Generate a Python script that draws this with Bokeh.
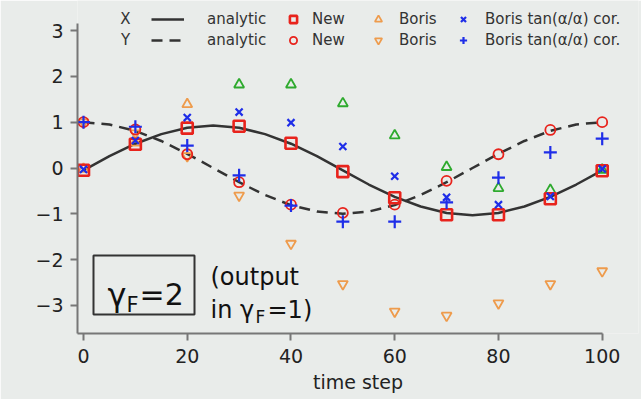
from bokeh.plotting import figure
from bokeh.models import (ColumnDataSource, Legend, LegendItem, Label,
                          BoxAnnotation, FixedTicker, Range1d)
from bokeh.embed import file_html
from bokeh.resources import INLINE
import math

# ---- data -------------------------------------------------------------
steps = [0, 10, 20, 30, 40, 50, 60, 70, 80, 90, 100]

new_x = [-0.05, 0.52, 0.87, 0.91, 0.54, -0.08, -0.65, -1.02, -1.02, -0.67, -0.06]
new_y = [1.00, 0.84, 0.30, -0.31, -0.80, -0.98, -0.80, -0.28, 0.30, 0.83, 1.00]

boris_x = [-0.02, 0.55, 1.39, 1.82, 1.82, 1.41, 0.71, 0.02, -0.44, -0.48, -0.04]
boris_x_colors = ["#ee9b4c", "#ee9b4c", "#ee9b4c", "#2eaa2e", "#2eaa2e", "#2eaa2e",
                  "#2eaa2e", "#2eaa2e", "#2eaa2e", "#2eaa2e", "#2eaa2e"]
boris_y = [1.00, 0.76, 0.26, -0.60, -1.65, -2.53, -3.13, -3.22, -2.95, -2.53, -2.25]

cor_x = [-0.03, 0.60, 1.10, 1.22, 0.99, 0.47, -0.18, -0.64, -0.80, -0.62, -0.02]
cor_y = [1.00, 0.90, 0.49, -0.16, -0.82, -1.17, -1.17, -0.75, -0.21, 0.34, 0.64]

curve_t = [0, 5, 10, 15, 20, 25, 30, 35, 40, 45, 50,
           55, 60, 65, 70, 75, 80, 85, 90, 95, 100]
analytic_x = [-0.05, 0.26, 0.53, 0.74, 0.88, 0.93, 0.88, 0.74, 0.53, 0.26, -0.05,
              -0.36, -0.63, -0.84, -0.98, -1.03, -0.98, -0.84, -0.63, -0.36, -0.05]
analytic_y = [1.00, 0.95, 0.81, 0.59, 0.31, 0.00, -0.31, -0.59, -0.81, -0.95, -1.00,
              -0.95, -0.81, -0.59, -0.31, 0.00, 0.31, 0.59, 0.81, 0.95, 1.00]

x_ticks = [0, 20, 40, 60, 80, 100]
y_ticks = [-3, -2, -1, 0, 1, 2, 3]

# ---- layout -----------------------------------------------------------
W, H = 641, 399
LEFT, RIGHT, TOP, BOTTOM = 77, 3, 0, 66
X_LO, X_HI = -1.157, -1.157 + (W - LEFT - RIGHT) / 5.187
Y_LO, Y_HI = -3.611, 3.655

BG = "#e9ecea"
FONT = "DejaVu Sans"
RED, ORANGE, BLUE, DARK = "#e8231c", "#ee9b4c", "#1f2ee8", "#333333"


def dx(px):
    return X_LO + (px - LEFT) * (X_HI - X_LO) / (W - LEFT - RIGHT)


def dy(py):
    return Y_HI - (py - TOP) * (Y_HI - Y_LO) / (H - TOP - BOTTOM)


p = figure(width=W, height=H, output_backend="svg", toolbar_location=None,
           x_range=Range1d(X_LO, X_HI), y_range=Range1d(Y_LO, Y_HI),
           min_border_left=LEFT, min_border_right=RIGHT,
           min_border_top=TOP, min_border_bottom=BOTTOM,
           background_fill_color=BG, border_fill_color=BG)
p.outline_line_color = None
p.grid.visible = False

for ax in (p.xaxis[0], p.yaxis[0]):
    ax.axis_line_color = "#777777"
    ax.axis_line_width = 2
    ax.major_tick_line_color = "#777777"
    ax.major_tick_line_width = 2
    ax.major_tick_out = 7
    ax.major_tick_in = 0
    ax.minor_tick_line_color = None
    ax.major_label_text_font = FONT
    ax.major_label_text_font_size = "19px"
    ax.major_label_text_color = "#222222"
    ax.axis_label_text_font = FONT
    ax.axis_label_text_font_size = "19px"
    ax.axis_label_text_font_style = "normal"
    ax.axis_label_text_color = "#222222"

p.xaxis.ticker = FixedTicker(ticks=x_ticks)
p.yaxis.ticker = FixedTicker(ticks=y_ticks)
p.xaxis.bounds = (X_LO, 100)
p.yaxis.bounds = (Y_LO, 3.15)
p.xaxis.major_label_standoff = 8
p.yaxis.major_label_standoff = 7
p.xaxis.axis_label = "time step"
p.xaxis.axis_label_standoff = 5

# y-axis title, set close to the tick labels
p.add_layout(Label(x=dx(28), y=dy(167), text="X,Y", angle=math.pi / 2,
                   text_align="center", text_baseline="middle", text_font=FONT,
                   text_font_size="19px", text_color="#222222"))

# ---- glyphs -----------------------------------------------------------
curves = ColumnDataSource(dict(t=curve_t, x=analytic_x, y=analytic_y))
pts = ColumnDataSource(dict(t=steps, new_x=new_x, new_y=new_y,
                            boris_x=boris_x, bx_color=boris_x_colors,
                            boris_y=boris_y, cor_x=cor_x, cor_y=cor_y))

r_ax = p.line("t", "x", source=curves, line_color=DARK, line_width=2.5)
r_ay = p.line("t", "y", source=curves, line_color=DARK, line_width=2.5,
              line_dash="11 7")

r_bx = p.scatter("t", "boris_x", source=pts, marker="triangle", size=10,
                 fill_alpha=0, line_color="bx_color", line_width=1.8)
r_by = p.scatter("t", "boris_y", source=pts, marker="inverted_triangle", size=10,
                 fill_alpha=0, line_color=ORANGE, line_width=1.8)
r_nx = p.scatter("t", "new_x", source=pts, marker="square", size=11,
                 fill_alpha=0, line_color=RED, line_width=2.6)
r_ny = p.scatter("t", "new_y", source=pts, marker="circle", size=10,
                 fill_alpha=0, line_color=RED, line_width=1.8)
r_cx = p.scatter("t", "cor_x", source=pts, marker="x", size=10,
                 line_color=BLUE, line_width=2.2)
r_cy = p.scatter("t", "cor_y", source=pts, marker="cross", size=13,
                 line_color=BLUE, line_width=2.2)

# ---- legend: four columns of two rows ----------------------------------
FRAME_BOTTOM = H - BOTTOM
LEG_TOP = 8.5
ROW_H, ROW_GAP = 20, 1
LEG_BOTTOM = LEG_TOP + 2 * ROW_H + ROW_GAP


def legend_column(items, left_px, glyph_w, standoff):
    leg = Legend(items=items, location=(left_px - LEFT, FRAME_BOTTOM - LEG_BOTTOM),
                 orientation="vertical", padding=0, margin=0, spacing=ROW_GAP,
                 glyph_width=glyph_w, glyph_height=ROW_H, label_height=ROW_H,
                 label_standoff=standoff, border_line_color=None,
                 background_fill_alpha=0, label_text_font=FONT,
                 label_text_font_size="15px", label_text_color=DARK)
    p.add_layout(leg, "center")


legend_column([LegendItem(label="analytic", renderers=[r_ax]),
               LegendItem(label="analytic", renderers=[r_ay])], 151, 33, 23)
legend_column([LegendItem(label="New", renderers=[r_nx]),
               LegendItem(label="New", renderers=[r_ny])], 284, 18, 10)
legend_column([LegendItem(label="Boris", renderers=[r_bx], index=0),
               LegendItem(label="Boris", renderers=[r_by])], 369, 18, 12)
legend_column([LegendItem(label="Boris tan(\u03b1/\u03b1) cor.", renderers=[r_cx]),
               LegendItem(label="Boris tan(\u03b1/\u03b1) cor.", renderers=[r_cy])],
              454, 18, 13)

for txt, row_y in (("X", LEG_TOP + ROW_H / 2), ("Y", LEG_TOP + 1.5 * ROW_H + ROW_GAP)):
    p.add_layout(Label(x=dx(125), y=dy(row_y), text=txt, text_align="center",
                       text_baseline="middle", text_font=FONT,
                       text_font_size="15px", text_color=DARK))

# ---- boxed note ----------------------------------------------------------
p.add_layout(BoxAnnotation(left=dx(93), right=dx(194), top=dy(255), bottom=dy(314),
                           fill_alpha=0, line_color=DARK, line_alpha=1,
                           line_width=2))


def note(text, left_px, base_px, size):
    p.add_layout(Label(x=dx(left_px), y=dy(base_px), text=text, text_align="left",
                       text_baseline="alphabetic", text_font=FONT,
                       text_font_size=size, text_color="#111111"))


note("\u03b3", 107, 294, "32px")
note("F", 126, 304, "21px")
note("=2", 139, 294, "30px")
note("(output", 210, 276, "24px")
note("in \u03b3", 210, 309, "24px")
note("F", 255, 316, "17px")
note("=1)", 267, 309, "24px")

open("out.html", "w").write(file_html(p, INLINE))
